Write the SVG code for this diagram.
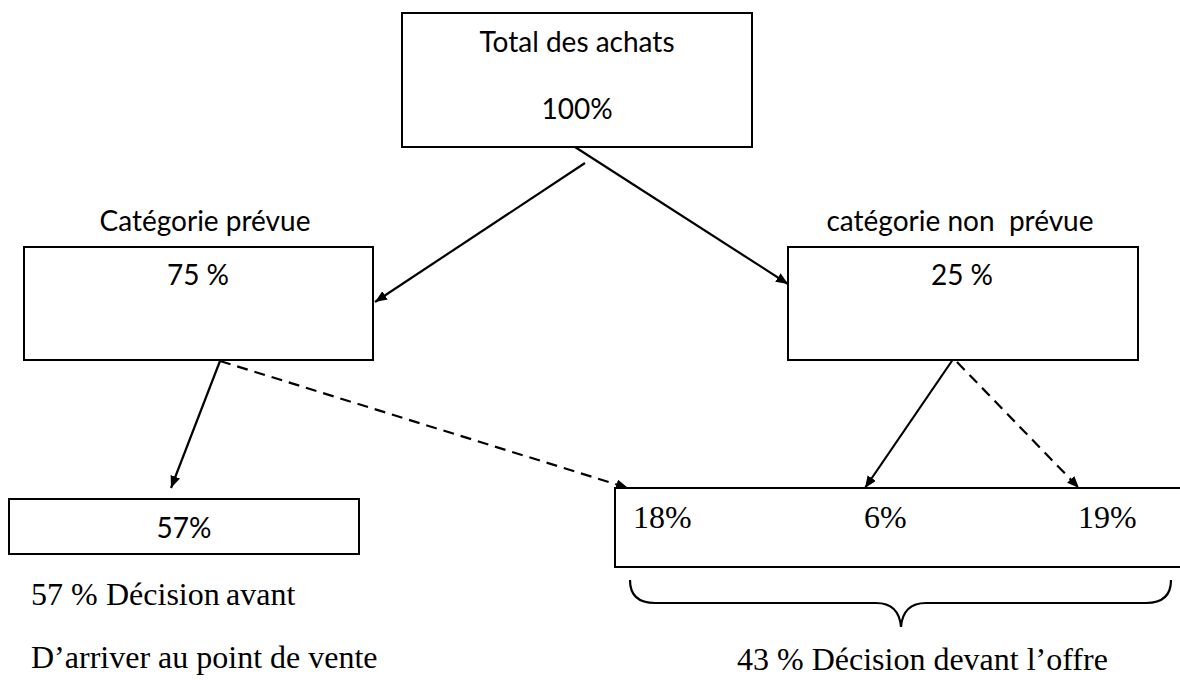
<svg xmlns="http://www.w3.org/2000/svg" width="1180" height="680" viewBox="0 0 1180 680">
<style>
.box{fill:#fff;stroke:#000;stroke-width:2}
.sans{font-family:Lato,"Open Sans","Liberation Sans",sans-serif;font-size:28px;fill:#000}
.serif{font-family:"Liberation Serif","Times New Roman",serif;font-size:32px;fill:#000}
.ln{stroke:#000;stroke-width:2.2;fill:none}
.dash{stroke-dasharray:11 7}
</style>
<defs>
<marker id="ah" viewBox="0 0 12 10" refX="12" refY="5" markerWidth="12" markerHeight="10" markerUnits="userSpaceOnUse" orient="auto">
<path d="M0,0 L12,5 L0,10 Z" fill="#000"/>
</marker>
</defs>
<rect width="1180" height="680" fill="#fff"/>
<g id="connectors">
<line class="ln" x1="585" y1="163" x2="375" y2="302" marker-end="url(#ah)"/>
<line class="ln" x1="575" y1="147" x2="788" y2="284" marker-end="url(#ah)"/>
<line class="ln" x1="220" y1="361" x2="171" y2="488" marker-end="url(#ah)"/>
<line class="ln dash" x1="220" y1="361" x2="628" y2="488" marker-end="url(#ah)"/>
<line class="ln" x1="958" y1="352" x2="865" y2="488" marker-end="url(#ah)"/>
<line class="ln dash" x1="957" y1="362" x2="1079" y2="488" marker-end="url(#ah)"/>
</g>
<g id="node-total">
<rect class="box" x="402" y="13" width="350" height="134"/>
<text class="sans" x="577" y="52" text-anchor="middle">Total des achats</text>
<text class="sans" x="577" y="119" text-anchor="middle">100%</text>
</g>
<g id="node-prevue">
<text class="sans" x="205" y="231" text-anchor="middle">Catégorie prévue</text>
<rect class="box" x="24" y="247" width="349" height="113"/>
<text class="sans" x="198" y="285" text-anchor="middle">75 %</text>
</g>
<g id="node-non-prevue">
<text class="sans" x="960" y="231" text-anchor="middle" xml:space="preserve">catégorie non  prévue</text>
<rect class="box" x="788" y="247" width="350" height="113"/>
<text class="sans" x="962" y="285" text-anchor="middle">25 %</text>
</g>
<g id="node-57">
<rect class="box" x="9" y="499" width="350" height="55"/>
<text class="sans" x="184" y="538" text-anchor="middle">57%</text>
<text class="serif" y="605"><tspan x="31">57 %</tspan><tspan x="106">Décision</tspan><tspan x="226">avant</tspan></text>
<text class="serif" x="31" y="668">D’arriver au point de vente</text>
</g>
<g id="node-43">
<rect class="box" x="615" y="488" width="575" height="79"/>
<text class="serif" x="633" y="528">18%</text>
<text class="serif" x="864" y="528">6%</text>
<text class="serif" x="1078" y="528">19%</text>
<path class="ln" stroke-width="2" d="M630,580 Q630,603 655,603 L876,603 Q899,603 901,627 Q903,603 926,603 L1146,603 Q1171,603 1171,580"/>
<text class="serif" x="737" y="670">43 % Décision devant l’offre</text>
</g>
</svg>
